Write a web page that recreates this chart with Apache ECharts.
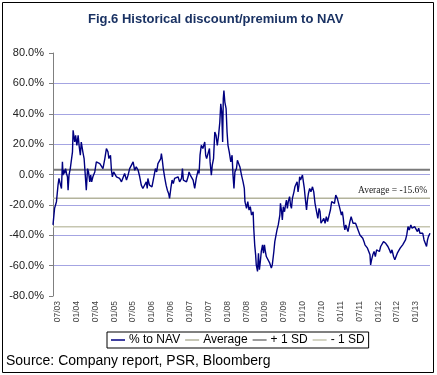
<!DOCTYPE html>
<html>
<head>
<meta charset="utf-8">
<script src="https://cdn.jsdelivr.net/npm/echarts@6/dist/echarts.min.js"></script>
<style>
  html, body { margin: 0; padding: 0; background: #fff; }
  #navChart { width: 437px; height: 375px; }
</style>
</head>
<body>
<div id="navChart"></div>
<script>
// x positions in months counted from Jan 2003 (6 = Jul 2003, 120 = Jan 2013)
const months = [
  4.5,5.0,5.6,6.1,6.4,6.9,7.2,7.5,7.7,7.9,8.2,8.5,8.8,9.1,9.3,9.6,10.0,10.4,10.7,10.9,
  11.1,11.4,11.7,12.1,12.5,12.8,13.2,13.5,13.9,14.0,14.4,14.7,15.1,15.5,15.8,16.2,16.5,16.8,17.2,17.8,
  18.3,18.8,19.4,19.9,20.4,21.0,21.5,22.0,22.3,22.8,23.1,23.4,23.8,24.2,24.7,25.2,25.7,26.3,26.8,27.3,
  27.9,28.4,28.9,29.5,30.0,30.5,31.0,31.6,32.1,32.6,33.1,33.7,
  34.2,34.5,34.7,35.2,35.6,36.0,36.6,37.1,37.5,37.9,38.4,38.8,39.0,39.3,39.6,40.1,40.5,40.9,41.3,41.6,
  42.0,42.4,42.8,43.2,43.8,44.3,44.8,45.4,45.7,46.0,46.4,47.0,47.5,47.8,48.2,48.6,49.1,49.6,50.1,50.7,
  51.0,51.3,51.7,52.2,52.8,53.1,53.4,53.8,54.3,54.5,54.9,55.2,55.6,55.7,56.0,56.4,56.8,57.2,57.6,57.9,
  58.2,58.5,58.7,58.9,59.2,59.6,59.9,60.2,60.6,61.1,61.5,61.8,62.1,62.4,62.9,63.2,63.6,64.0,64.5,
  65.0,65.4,65.6,66.1,66.5,66.9,67.3,67.7,68.2,68.4,68.7,69.0,69.2,69.6,69.9,70.2,70.5,70.8,71.2,71.5,
  71.8,72.1,72.4,72.9,73.5,74.0,74.3,74.8,75.1,75.4,75.8,76.2,76.7,76.9,77.2,77.5,77.8,78.2,78.5,78.8,
  79.1,79.4,79.8,80.1,80.4,80.7,80.9,81.2,81.5,81.9,82.2,82.5,82.8,83.0,83.3,83.7,83.9,84.2,84.5,84.8,
  85.2,85.5,85.8,86.2,86.6,87.1,87.5,87.9,88.3,88.8,89.2,89.5,89.8,90.3,90.7,91.1,91.5,91.9,92.4,92.8,
  93.2,93.6,94.1,94.5,94.7,
  95.0,95.4,95.8,96.1,96.3,96.6,96.9,97.1,97.4,97.7,98.0,98.4,98.7,99.0,99.4,99.7,100.0,100.3,100.8,101.2,
  101.6,101.9,102.2,102.7,103.1,103.5,103.8,104.1,104.6,105.0,105.4,105.6,105.9,106.3,106.7,107.1,107.5,107.9,108.4,108.8,
  109.2,109.7,110.1,110.4,110.7,111.1,111.6,112.0,112.4,112.9,113.3,113.7,114.1,114.5,115.0,115.4,115.8,116.2,116.7,117.1,
  117.5,117.9,118.4,118.8,119.2,119.6,120.1,120.5,120.9,121.3,121.8,122.2,122.6,123.0,123.4,123.7,124.0,124.3,124.5
];
// % to NAV (premium + / discount -)
const pctToNav = [
  -33.2,-22.3,-17.9,-7.0,-2.6,-7.0,-9.2,8.3,-0.4,2.8,0.7,3.9,0.7,-1.5,-10.3,-0.4,3.9,5.0,14.9,29.1,
  30.2,21.4,25.8,19.2,25.8,19.2,12.7,21.4,22.5,14.9,10.5,1.7,-10.3,3.9,1.7,-4.8,-0.4,-4.8,-1.5,1.7,
  8.3,8.3,7.2,6.1,3.9,10.5,17.1,14.9,10.5,12.7,2.8,-1.5,1.7,0.7,-1.5,-2.6,-2.6,-4.8,-3.7,0.7,
  -3.7,-0.4,3.9,2.8,8.3,2.8,5.0,2.8,-1.5,-7.0,-9.2,-8.1,
  -4.8,-9.2,-2.6,-7.0,-5.9,-8.1,-7.0,3.9,1.7,7.2,8.3,10.5,13.8,9.4,3.9,-2.6,-7.0,-10.3,-12.5,-15.7,
  -9.2,-3.7,-5.9,-2.6,-2.6,-1.5,-4.8,-2.6,3.9,-3.7,-3.7,-4.8,-1.5,1.7,-0.4,-1.5,-3.7,-9.2,-2.6,2.8,
  0.7,12.7,19.2,17.1,21.4,12.7,10.5,10.5,17.1,8.3,-0.4,6.1,10.5,14.9,28.0,25.8,19.2,25.8,34.5,46.6,
  41.1,21.4,49.8,55.3,47.7,43.3,28.0,19.2,14.9,8.3,12.7,-0.4,-9.2,1.7,3.9,9.4,8.3,5.0,-0.4,
  -4.8,-9.2,-17.9,-22.3,-17.9,-23.4,-21.2,-26.7,-24.5,-35.4,-46.3,-52.9,-59.5,-63.8,-51.8,-62.7,-57.3,-50.7,-46.3,-51.8,
  -46.3,-50.7,-54.0,-55.1,-58.4,-61.6,-59.5,-50.7,-44.2,-40.9,-36.5,-33.2,-26.7,-19.0,-23.4,-29.9,-21.2,-24.5,-20.1,-16.8,
  -22.3,-17.9,-14.6,-20.1,-22.3,-15.7,-16.8,-11.4,-8.1,-9.2,-4.8,-11.4,-7.0,-1.5,-3.7,-4.8,-0.4,-4.8,-9.2,-15.7,
  -23.4,-16.8,-12.5,-9.2,-11.4,-8.1,-11.4,-19.0,-23.4,-28.9,-22.3,-24.5,-32.1,-33.2,-28.9,-32.1,-27.8,-31.0,-26.7,-23.4,
  -17.9,-16.8,-19.0,-13.6,-12.5,
  -15.7,-19.0,-22.3,-21.2,-26.7,-24.5,-28.9,-33.2,-36.5,-33.2,-34.3,-37.6,-34.3,-31.0,-27.8,-29.9,-32.1,-33.2,-32.1,-34.3,
  -36.5,-37.6,-39.8,-38.7,-42.0,-44.2,-46.3,-45.3,-48.5,-50.7,-52.9,-59.5,-56.2,-52.9,-50.7,-54.0,-49.6,-48.5,-50.7,-47.4,
  -48.5,-44.2,-43.1,-45.3,-46.3,-47.4,-49.6,-51.8,-49.6,-54.0,-56.2,-54.0,-51.8,-50.7,-48.5,-47.4,-46.3,-45.3,-43.1,-39.8,
  -34.3,-36.5,-33.2,-35.4,-36.5,-34.3,-35.4,-37.6,-35.4,-38.7,-39.8,-38.7,-43.1,-42.0,-47.4,-43.1,-40.9,-39.8,-38.7
];
const average = -15.6;
const plusOneSd = 3.2;
const minusOneSd = -34.4;
const xTickMonths = [6,12,18,24,30,36,42,48,54,60,66,72,78,84,90,96,102,108,114,120];
const xTickLabels = ["07/03","01/04","07/04","01/05","07/05","01/06","07/06","01/07","07/07","01/08",
  "07/08","01/09","07/09","01/10","07/10","01/11","07/11","01/12","07/12","01/13"];

const xStart = months[0];
const xEnd = months[months.length - 1];
const flat = (v) => [[xStart, v], [xEnd, v]];
const font = "'Liberation Sans', Arial, sans-serif";

let chart = echarts.init(document.getElementById("navChart"));
let option = {
  backgroundColor: "#fff",
  animation: false,
  title: {
    text: "Fig.6 Historical discount/premium to NAV",
    left: 83,
    top: 8,
    textStyle: { fontFamily: font, fontSize: 13, fontWeight: "bold", color: "#1a3263" },
  },
  legend: {
    data: ["% to NAV", "Average", "+ 1 SD", "- 1 SD"],
    left: 107,
    top: 332,
    icon: "rect",
    itemWidth: 14,
    itemHeight: 1.5,
    itemGap: 5,
    padding: [2, 4],
    borderColor: "#000",
    borderWidth: 1,
    textStyle: { fontFamily: font, fontSize: 12, color: "#000", padding: [0, 0, 0, -1] },
  },
  grid: { left: 53, right: 7, top: 53, bottom: 79 },
  xAxis: {
    type: "value",
    min: xStart,
    max: xEnd,
    axisLine: { show: false },
    axisTick: { show: false },
    splitLine: { show: false },
    axisLabel: {
      customValues: xTickMonths,
      formatter: (v) => xTickLabels[xTickMonths.indexOf(v)],
      rotate: 90,
      margin: 5,
      fontFamily: font,
      fontSize: 8.5,
      color: "#444",
    },
  },
  yAxis: {
    type: "value",
    min: -80,
    max: 80,
    interval: 20,
    axisLine: { show: true, lineStyle: { color: "#7f7f7f" } },
    axisTick: { show: true, length: 4, lineStyle: { color: "#7f7f7f" } },
    axisLabel: {
      formatter: (v) => v.toFixed(1) + "%",
      margin: 9,
      fontFamily: font,
      fontSize: 11,
      color: "#222",
    },
    splitLine: {
      show: true,
      showMinLine: false,
      showMaxLine: false,
      lineStyle: { color: "#a4a4e2", width: 1 },
    },
  },
  series: [
    {
      name: "Average",
      type: "line",
      data: flat(average),
      color: "#b3b39c",
      showSymbol: false,
      lineStyle: { width: 1.5 },
    },
    {
      name: "+ 1 SD",
      type: "line",
      data: flat(plusOneSd),
      color: "#7a7a7a",
      showSymbol: false,
      lineStyle: { width: 2 },
    },
    {
      name: "- 1 SD",
      type: "line",
      data: flat(minusOneSd),
      color: "#c6c6b0",
      showSymbol: false,
      lineStyle: { width: 1.5 },
    },
    {
      name: "% to NAV",
      type: "line",
      data: months.map((m, i) => [m, pctToNav[i]]),
      color: "#000080",
      showSymbol: false,
      lineStyle: { width: 1.4 },
      z: 5,
    },
  ],
  graphic: [
    {
      type: "rect",
      shape: { x: 2.5, y: 2.5, width: 431, height: 370 },
      style: { fill: "none", stroke: "#000", lineWidth: 1 },
      silent: true,
    },
    {
      type: "text",
      left: 358,
      top: 185,
      style: { text: "Average = -15.6%", font: "9.5px 'Liberation Serif', 'Times New Roman', serif", fill: "#222" },
    },
    {
      type: "text",
      left: 6,
      top: 354,
      style: { text: "Source: Company report, PSR, Bloomberg", font: "14px 'Liberation Sans', Arial, sans-serif", fill: "#000" },
    },
  ],
};
chart.setOption(option);
</script>
</body>
</html>
